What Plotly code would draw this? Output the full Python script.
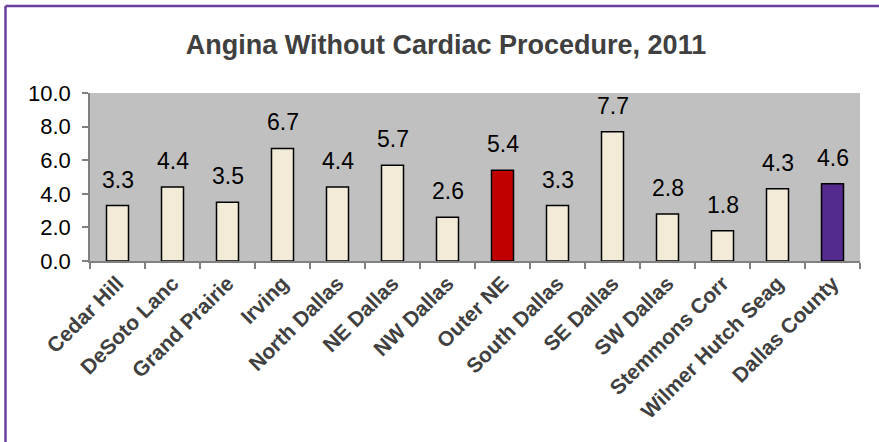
import plotly.graph_objects as go

categories = ["Cedar Hill", "DeSoto Lanc", "Grand Prairie", "Irving", "North Dallas",
              "NE Dallas", "NW Dallas", "Outer NE", "South Dallas", "SE Dallas",
              "SW Dallas", "Stemmons Corr", "Wilmer Hutch Seag", "Dallas County"]
values = [3.3, 4.4, 3.5, 6.7, 4.4, 5.7, 2.6, 5.4, 3.3, 7.7, 2.8, 1.8, 4.3, 4.6]
bar_colors = ["#F2EBD8"] * 7 + ["#C00000"] + ["#F2EBD8"] * 5 + ["#542A8C"]
title_text = "Angina Without Cardiac Procedure, 2011"
y_ticks = [0, 2, 4, 6, 8, 10]

W, H = 879, 442
L, R, T, B = 90, 19, 93, 181

fig = go.Figure()
fig.add_trace(go.Bar(
    x=categories, y=values,
    marker=dict(color=bar_colors, line=dict(color="#000000", width=1.5)),
    width=0.4,
    hoverinfo="skip",
))

annotations = []
for c, v in zip(categories, values):
    annotations.append(dict(
        x=c, y=v, xref="x", yref="y", text=f"{v:.1f}", showarrow=False,
        yanchor="bottom", yshift=11,
        font=dict(family="Liberation Sans, Arial", size=23, color="#000000"),
    ))

# outer purple border (left and top visible)
pw = W - L - R
ph = H - T - B
x0 = (5.5 - L) / pw
y1 = 1 + (T - 6) / ph
shapes = [
    dict(type="line", xref="paper", yref="paper", x0=x0, x1=x0, y0=-B / ph - 0.05, y1=y1,
         line=dict(color="#6A3FA0", width=2.5)),
    dict(type="line", xref="paper", yref="paper", x0=x0, x1=1 + R / pw + 0.05, y0=y1, y1=y1,
         line=dict(color="#6A3FA0", width=2.5)),
]

fig.update_layout(
    width=W, height=H,
    margin=dict(l=L, r=R, t=T, b=B, autoexpand=False),
    paper_bgcolor="#FFFFFF",
    plot_bgcolor="#C0C0C0",
    showlegend=False,
    bargap=0.6,
    title=dict(text=f"<b>{title_text}</b>", x=446 / W, xref="container", xanchor="center",
               y=1 - 45 / H, yref="container", yanchor="middle",
               font=dict(family="Liberation Sans, Arial", size=27, color="#404040")),
    xaxis=dict(
        type="category", tickangle=-45, ticks="outside", tickson="boundaries",
        ticklen=6, tickcolor="#808080", tickwidth=1.5,
        showline=True, linecolor="#808080", linewidth=1.5,
        showgrid=False, zeroline=False, automargin=False,
        tickfont=dict(family="Liberation Sans, Arial", size=21, color="#404040", weight="bold"),
    ),
    yaxis=dict(
        range=[0, 10], tickvals=y_ticks, tickformat=".1f",
        ticks="outside", ticklen=6, tickcolor="#808080", tickwidth=1.5,
        ticklabelstandoff=7,
        showline=True, linecolor="#808080", linewidth=1.5,
        showgrid=False, zeroline=False, automargin=False,
        tickfont=dict(family="Liberation Sans, Arial", size=22, color="#000000"),
    ),
    annotations=annotations,
    shapes=shapes,
)

fig.write_html("out.html", config={"displayModeBar": False},
               post_script="document.body.style.margin='0';document.body.style.overflow='hidden';")
